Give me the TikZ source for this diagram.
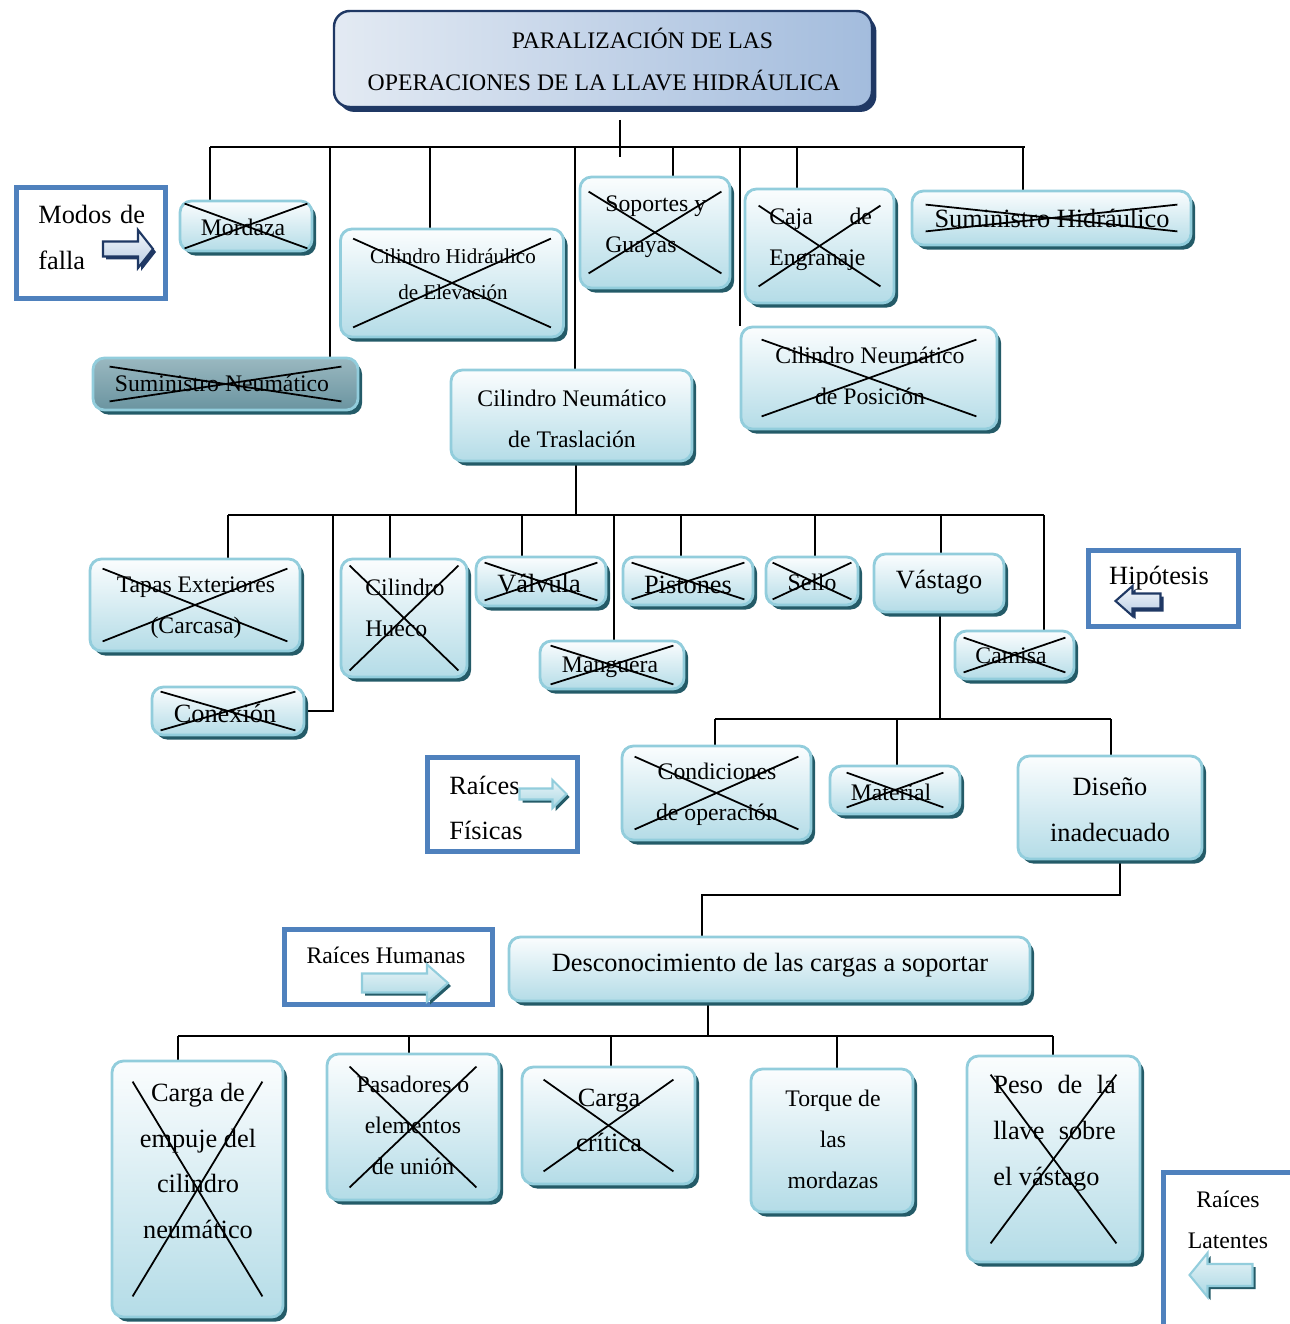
\documentclass[tikz,border=0pt]{standalone}
\usepackage{fontspec}
\setmainfont{Liberation Serif}
\usetikzlibrary{calc,shadows,backgrounds}
\definecolor{boxtop}{HTML}{FBFDFE}
\definecolor{boxbot}{HTML}{B4DCE7}
\definecolor{boxbd}{HTML}{92CDDC}
\definecolor{shteal}{HTML}{245B68}
\definecolor{sntop}{HTML}{9AB8C0}
\definecolor{snbot}{HTML}{6A94A0}
\definecolor{titL}{HTML}{E3EAF3}
\definecolor{titR}{HTML}{A3BCDD}
\definecolor{cNavy}{HTML}{1F3864}
\definecolor{legc}{HTML}{4F81BD}
\definecolor{arTop}{HTML}{F4F7FB}
\definecolor{arBot}{HTML}{B8CCE4}
\definecolor{taTop}{HTML}{EAF5F8}
\definecolor{taBot}{HTML}{A9D7E3}
\newcommand\tsS{\fontsize{13.5}{23.4}\selectfont}
\newcommand\tsL{\fontsize{15}{26}\selectfont}
\newcommand\tsXS{\fontsize{12}{20.4}\selectfont}
\newcommand\xcross[3]{%
  \draw[xline] ($(#1.north west)+(#2,#3)$) -- ($(#1.south east)+(-#2,-#3)$);
  \draw[xline] ($(#1.south west)+(#2,-#3)$) -- ($(#1.north east)+(-#2,#3)$);}
\newcommand\fatarrow[8]{%
  \begin{scope}[shift={(#1+3,#2+3)},xscale=#3]
    \path[#8sh] ({-#4/2},{-#5/2}) -- ({#4/2-#7},{-#5/2}) -- ({#4/2-#7},{-#6/2}) -- ({#4/2},0) -- ({#4/2-#7},{#6/2}) -- ({#4/2-#7},{#5/2}) -- ({-#4/2},{#5/2}) -- cycle;
  \end{scope}
  \begin{scope}[shift={(#1,#2)},xscale=#3]
    \path[#8ar] ({-#4/2},{-#5/2}) -- ({#4/2-#7},{-#5/2}) -- ({#4/2-#7},{-#6/2}) -- ({#4/2},0) -- ({#4/2-#7},{#6/2}) -- ({#4/2-#7},{#5/2}) -- ({-#4/2},{#5/2}) -- cycle;
  \end{scope}}
\begin{document}
\begin{tikzpicture}[x=0.02cm,y=-0.02cm,
  conn/.style={line width=1.1pt},
  xline/.style={line width=1pt},
  sz/.style 2 args={minimum width=#1*0.02cm, minimum height=#2*0.02cm},
  cbox/.style={rectangle, rounded corners=6.5pt, draw=boxbd, line width=1.6pt,
    top color=boxtop, bottom color=boxbot, inner sep=0pt,
    drop shadow={shadow xshift=2.3pt, shadow yshift=-2.6pt, fill=shteal, opacity=1}},
  gbox/.style={cbox, top color=sntop, bottom color=snbot},
  tbox/.style={rectangle, rounded corners=9pt, draw=cNavy, line width=1.4pt,
    left color=titL, right color=titR, inner sep=0pt,
    drop shadow={shadow xshift=2.5pt, shadow yshift=-2.8pt, fill=cNavy, opacity=1}},
  legbox/.style={rectangle, draw=legc, line width=2.9pt, fill=white, inner sep=0pt},
  txt/.style={inner sep=0pt, align=center, font=\tsS},
  txtl/.style={inner sep=0pt, align=center, font=\tsL},
  ltxt/.style={inner sep=0pt, align=left, anchor=west, font=\tsS},
  ltxtl/.style={inner sep=0pt, align=left, anchor=west, font=\tsL},
  navysh/.style={fill=cNavy},
  navyar/.style={draw=cNavy, line width=1.2pt, top color=arTop, bottom color=arBot},
  tealsh/.style={fill=shteal},
  tealar/.style={draw=boxbd, line width=1.2pt, top color=taTop, bottom color=taBot}]
\useasboundingbox (0,0) rectangle (1290,1324);

% ---------- title ----------
\node[tbox, sz={538}{96}] (title) at (603,59) {};
\node[inner sep=0pt, align=left, font=\tsS] (titletx) at (604,59.5)
  {\hspace*{82pt}PARALIZACIÓN DE LAS\\OPERACIONES DE LA LLAVE HIDRÁULICA};

% ---------- level 1 ----------
\node[cbox, sz={132}{50}] (mord) at (246,226) {};
\node[cbox, sz={223}{108}] (chid) at (452,283) {};
\node[cbox, sz={150}{111}] (sop) at (655,232.5) {};
\node[cbox, sz={149}{114}] (caja) at (819.5,246) {};
\node[cbox, sz={279}{54}] (shid) at (1051.5,218) {};
\node[gbox, sz={265}{52}] (sneu) at (225.5,384) {};
\node[cbox, sz={241}{91}] (ctras) at (571.5,415.5) {};
\node[cbox, sz={256}{102}] (cpos) at (869,378) {};

\node[txt] (tmord) at (243,227) {Mordaza};
\node[inner sep=0pt, align=center, font=\tsXS] (tchid) at (453,274) {Cilindro Hidráulico\\de Elevación};
\node[ltxt] (tsop) at (605,227) {Soportes y\\Guayas};
\node[ltxt] (tcaja) at (769,239.5) {\makebox[58.4pt][l]{Caja\hfill de}\\Engranaje};
\node[txtl] (tshid) at (1052,218) {Suministro Hidráulico};
\node[txt] (tsneu) at (222,383) {Suministro Neumático};
\node[txt] (tctras) at (572,418.5) {Cilindro Neumático\\de Traslación};
\node[txt] (tcpos) at (870,375.5) {Cilindro Neumático\\de Posición};

\xcross{mord}{6}{4}
\xcross{chid}{14}{11}
\xcross{sop}{10}{16}
\xcross{caja}{15}{18}
\xcross{shid}{15}{15}
\xcross{sneu}{18}{10}
\xcross{cpos}{22}{14}

% legend: modos de falla
\node[legbox, sz={149}{111}] (lmodos) at (91,243) {};
\node[ltxtl] (tmodos) at (38,237.5) {\makebox[60.7pt][l]{Modos\hfill de}\\falla};
\fatarrow{128}{249}{1}{50}{15}{38}{15}{navy}

% ---------- level 2 ----------
\node[cbox, sz={210}{92}] (tapas) at (195,605) {};
\node[cbox, sz={152}{48}] (conex) at (228,711) {};
\node[cbox, sz={126}{118}] (chue) at (404,618) {};
\node[cbox, sz={130}{49}] (valv) at (541,581.5) {};
\node[cbox, sz={144}{48}] (mang) at (612,665) {};
\node[cbox, sz={130}{48}] (pist) at (688,581) {};
\node[cbox, sz={92}{48}] (sello) at (812,581) {};
\node[cbox, sz={130}{58}] (vast) at (939,583) {};
\node[cbox, sz={119}{48}] (cam) at (1014.5,655) {};

\node[txt] (ttapas) at (196,608) {Tapas Exteriores\\(Carcasa)};
\node[txtl] (tconex) at (225,713) {Conexión};
\node[ltxt] (tchue) at (365,608) {Cilindro\\Hueco};
\node[txtl] (tvalv) at (539,584) {Válvula};
\node[txt] (tmang) at (610,667) {Manguera};
\node[txtl] (tpist) at (688,585) {Pistones};
\node[txt] (tsello) at (812,582) {Sello};
\node[txtl] (tvast) at (939,582) {Vástago};
\node[txt] (tcam) at (1011,656) {Camisa};

\xcross{tapas}{14}{11}
\xcross{conex}{10}{6}
\xcross{chue}{10}{8}
\xcross{valv}{10}{7}
\xcross{mang}{12}{6}
\xcross{pist}{10}{7}
\xcross{sello}{8}{7}
\xcross{cam}{10}{8}

% legend: hipotesis
\node[legbox, sz={150}{76}] (lhip) at (1163.5,588.5) {};
\node[txtl] (thip) at (1159,578) {Hipótesis};
\fatarrow{1138}{601}{-1}{45}{15}{30}{17}{navy}

% ---------- level 3 ----------
\node[cbox, sz={189}{94}] (cond) at (716.5,793) {};
\node[cbox, sz={130}{48}] (mat) at (895,790) {};
\node[cbox, sz={184}{103}] (dis) at (1110,807.5) {};
\node[txt] (tcond) at (717,794.5) {Condiciones\\de operación};
\node[txt] (tmat) at (891,792) {Material};
\node[txtl] (tdis) at (1110,810) {Diseño\\inadecuado};
\xcross{cond}{14}{12}
\xcross{mat}{18}{8}

\node[legbox, sz={150}{94}] (lfis) at (502.5,804.5) {};
\node[ltxtl] (tfis) at (449,808) {Raíces\\Físicas};
\fatarrow{543}{794}{1}{47}{11}{28}{14}{teal}

% ---------- level 4 ----------
\node[cbox, sz={521}{64}] (desc) at (769.5,969) {};
\node[txtl] (tdesc) at (770,965) {Desconocimiento de las cargas a soportar};
\node[legbox, sz={208}{75}] (lhum) at (388.5,967) {};
\node[txt] (thum) at (386,955) {Raíces Humanas};
\fatarrow{405}{983}{1}{86}{19}{37}{21}{teal}

% ---------- level 5 ----------
\node[cbox, sz={171}{256}] (emp) at (197.5,1189) {};
\node[cbox, sz={172}{146}] (pas) at (413,1127) {};
\node[cbox, sz={173}{117}] (crit) at (608.5,1125.5) {};
\node[cbox, sz={162}{143}] (torq) at (832,1140.5) {};
\node[cbox, sz={173}{206}] (peso) at (1053.5,1159) {};
\node[txtl] (temp) at (198,1161) {Carga de\\empuje del\\cilindro\\neumático};
\node[txt] (tpas) at (413,1125.5) {Pasadores o\\elementos\\de unión};
\node[txtl] (tcrit) at (609,1120.5) {Carga\\crítica};
\node[txt] (ttorq) at (833,1139.5) {Torque de\\las\\mordazas};
\node[ltxtl] (tpeso) at (993,1133.3) {\makebox[69.7pt][l]{Peso\hfill de\hfill la}\\\makebox[69.7pt][l]{llave\hfill sobre}\\el vástago};
\xcross{emp}{22}{22}
\xcross{pas}{24}{14}
\xcross{crit}{23}{14}
\xcross{peso}{25}{20}

\node[legbox, sz={156.5}{177.5}] (llat) at (1241.75,1261.25) {};
\node[txt] (tlat) at (1228,1220) {Raíces\\Latentes};
\fatarrow{1221}{1275}{-1}{63}{22}{44}{18}{teal}

% ---------- connectors ----------
\begin{scope}[on background layer]
  \coordinate (t0) at (620,120);
  \coordinate (t1) at (620,157);
  \draw[conn] (t0) -- (t1);
  \draw[conn] (210,147) -- (1025,147);
  \foreach \x/\n in {210/mord,330/sneu,430/chid,575/ctras,673/sop,740/cpos,797/caja,1023/shid}
    \draw[conn] (\x,147) -- (\x,147 |- \n.north);

  \coordinate (k0) at (576,515);
  \draw[conn] (k0 |- ctras.south) -- (k0);
  \draw[conn] (228,515) -- (1044,515);
  \foreach \x/\n in {228/tapas,390/chue,522/valv,614/mang,681/pist,815/sello,941/vast,1044/cam}
    \draw[conn] (\x,515) -- (\x,515 |- \n.north);
  \coordinate (k1) at (333,515);
  \draw[conn] (k1) |- (conex.east);

  \coordinate (v0) at (940,719);
  \draw[conn] (v0 |- vast.south) -- (v0);
  \draw[conn] (715,719) -- (1111,719);
  \foreach \x/\n in {715/cond,897/mat,1111/dis}
    \draw[conn] (\x,719) -- (\x,719 |- \n.north);

  \coordinate (m1) at (1120,895);
  \coordinate (m2) at (702,895);
  \draw[conn] (m1 |- dis.south) -- (m1) -- (m2) -- (m2 |- desc.north);

  \coordinate (n0) at (708,1036);
  \draw[conn] (n0 |- desc.south) -- (n0);
  \draw[conn] (178,1036) -- (1053,1036);
  \foreach \x/\n in {178/emp,409/pas,611/crit,837/torq,1053/peso}
    \draw[conn] (\x,1036) -- (\x,1036 |- \n.north);
\end{scope}
\end{tikzpicture}
\end{document}
